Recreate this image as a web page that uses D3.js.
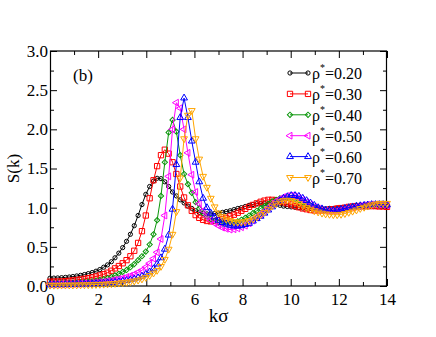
<!DOCTYPE html>
<html>
<head>
<meta charset="utf-8">
<script src="https://cdn.jsdelivr.net/npm/d3@7"></script>
<style>
  body { margin: 0; background: #fff; }
</style>
</head>
<body>
<div id="chart"></div>
<script>
// ---------- data ----------
const kValues = [
  0.00, 0.16, 0.32, 0.48, 0.64, 0.80, 0.95, 1.11, 1.27, 1.43,
  1.59, 1.75, 1.91, 2.07, 2.23, 2.39, 2.55, 2.70, 2.86, 3.02,
  3.18, 3.34, 3.50, 3.66, 3.82, 3.98, 4.14, 4.30, 4.45, 4.61,
  4.77, 4.93, 5.09, 5.25, 5.41, 5.57, 5.73, 5.89, 6.05, 6.20,
  6.36, 6.52, 6.68, 6.84, 7.00, 7.16, 7.32, 7.48, 7.64, 7.80,
  7.95, 8.11, 8.27, 8.43, 8.59, 8.75, 8.91, 9.07, 9.23, 9.39,
  9.55, 9.70, 9.86, 10.02, 10.18, 10.34, 10.50, 10.66, 10.82, 10.98,
  11.14, 11.30, 11.45, 11.61, 11.77, 11.93, 12.09, 12.25, 12.41, 12.57,
  12.73, 12.89, 13.05, 13.20, 13.36, 13.52, 13.68, 13.84, 14.00
];

const s020 = [
  0.100, 0.101, 0.103, 0.106, 0.110, 0.115, 0.121, 0.128, 0.136, 0.146,
  0.158, 0.172, 0.189, 0.21, 0.24, 0.27, 0.31, 0.36, 0.42, 0.49,
  0.57, 0.66, 0.77, 0.90, 1.04, 1.17, 1.27, 1.34, 1.375, 1.37,
  1.33, 1.27, 1.20, 1.15, 1.10, 1.06, 1.02, 0.99, 0.96, 0.94,
  0.925, 0.92, 0.92, 0.925, 0.93, 0.94, 0.95, 0.96, 0.975, 0.99,
  1.00, 1.015, 1.03, 1.04, 1.05, 1.055, 1.055, 1.05, 1.045, 1.04,
  1.03, 1.02, 1.015, 1.01, 1.005, 1.00, 0.995, 0.99, 0.99, 0.985,
  0.985, 0.985, 0.985, 0.99, 0.99, 0.995, 0.995, 1.00, 1.00, 1.005,
  1.005, 1.01, 1.01, 1.01, 1.015, 1.015, 1.02, 1.02, 1.02
];

const s030 = [
  0.055, 0.056, 0.057, 0.059, 0.062, 0.066, 0.071, 0.077, 0.084, 0.092,
  0.100, 0.110, 0.122, 0.135, 0.150, 0.170, 0.195, 0.225, 0.255, 0.29,
  0.33, 0.38, 0.45, 0.55, 0.70, 0.90, 1.12, 1.35, 1.53, 1.67,
  1.74, 1.69, 1.58, 1.43, 1.27, 1.13, 1.03, 0.96, 0.905, 0.87,
  0.845, 0.83, 0.825, 0.83, 0.84, 0.855, 0.87, 0.89, 0.91, 0.935,
  0.96, 0.985, 1.01, 1.035, 1.055, 1.075, 1.09, 1.10, 1.10, 1.095,
  1.085, 1.07, 1.055, 1.04, 1.02, 1.005, 0.99, 0.98, 0.97, 0.965,
  0.965, 0.965, 0.97, 0.975, 0.98, 0.99, 0.995, 1.00, 1.01, 1.015,
  1.02, 1.02, 1.02, 1.02, 1.02, 1.02, 1.015, 1.015, 1.01
];

const s040 = [
  0.030, 0.030, 0.031, 0.032, 0.034, 0.036, 0.039, 0.042, 0.046, 0.050,
  0.055, 0.060, 0.067, 0.077, 0.088, 0.100, 0.115, 0.135, 0.155, 0.18,
  0.205, 0.24, 0.28, 0.33, 0.38, 0.44, 0.53, 0.66, 0.84, 1.15,
  1.58, 1.96, 2.12, 1.97, 1.67, 1.43, 1.30, 1.19, 1.07, 0.99,
  0.93, 0.89, 0.855, 0.83, 0.81, 0.80, 0.795, 0.80, 0.81, 0.825,
  0.845, 0.87, 0.90, 0.93, 0.96, 0.99, 1.02, 1.05, 1.08, 1.10,
  1.12, 1.13, 1.13, 1.125, 1.11, 1.095, 1.07, 1.05, 1.03, 1.01,
  0.995, 0.98, 0.975, 0.97, 0.97, 0.975, 0.98, 0.99, 1.00, 1.01,
  1.02, 1.025, 1.03, 1.035, 1.035, 1.035, 1.035, 1.03, 1.03
];

const s050 = [
  0.020, 0.020, 0.021, 0.022, 0.023, 0.024, 0.026, 0.028, 0.030, 0.033,
  0.036, 0.040, 0.044, 0.049, 0.055, 0.062, 0.070, 0.080, 0.090, 0.100,
  0.115, 0.13, 0.15, 0.175, 0.20, 0.24, 0.29, 0.35, 0.43, 0.60,
  0.90, 1.40, 2.00, 2.34, 2.27, 2.00, 1.70, 1.42, 1.20, 1.05,
  0.96, 0.89, 0.84, 0.80, 0.77, 0.745, 0.73, 0.72, 0.725, 0.735,
  0.75, 0.77, 0.80, 0.835, 0.875, 0.915, 0.955, 1.00, 1.04, 1.08,
  1.11, 1.135, 1.15, 1.155, 1.145, 1.125, 1.10, 1.07, 1.04, 1.01,
  0.99, 0.97, 0.96, 0.955, 0.955, 0.96, 0.97, 0.98, 0.99, 1.00,
  1.01, 1.02, 1.03, 1.035, 1.04, 1.04, 1.04, 1.035, 1.03
];

const s060 = [
  0.015, 0.015, 0.016, 0.016, 0.017, 0.018, 0.019, 0.020, 0.021, 0.023,
  0.025, 0.027, 0.030, 0.033, 0.036, 0.040, 0.044, 0.049, 0.055, 0.062,
  0.070, 0.080, 0.090, 0.105, 0.125, 0.15, 0.18, 0.22, 0.28, 0.36,
  0.47, 0.65, 0.98, 1.55, 2.15, 2.40, 2.15, 1.85, 1.58, 1.33,
  1.12, 1.00, 0.93, 0.88, 0.84, 0.81, 0.79, 0.775, 0.765, 0.765,
  0.77, 0.785, 0.80, 0.83, 0.86, 0.89, 0.93, 0.97, 1.01, 1.05,
  1.09, 1.12, 1.14, 1.155, 1.155, 1.145, 1.12, 1.09, 1.06, 1.03,
  1.00, 0.985, 0.97, 0.965, 0.965, 0.97, 0.98, 0.99, 1.00, 1.01,
  1.02, 1.025, 1.03, 1.035, 1.04, 1.04, 1.04, 1.04, 1.035
];

const s070 = [
  0.010, 0.010, 0.010, 0.011, 0.011, 0.012, 0.012, 0.013, 0.014, 0.015,
  0.016, 0.017, 0.019, 0.021, 0.023, 0.026, 0.029, 0.033, 0.037, 0.042,
  0.048, 0.055, 0.064, 0.075, 0.09, 0.11, 0.135, 0.165, 0.20, 0.25,
  0.34, 0.47, 0.66, 0.95, 1.38, 1.88, 2.18, 2.24, 1.88, 1.62,
  1.40, 1.26, 1.12, 1.01, 0.93, 0.885, 0.855, 0.835, 0.82, 0.815,
  0.815, 0.82, 0.835, 0.855, 0.88, 0.91, 0.94, 0.98, 1.02, 1.05,
  1.075, 1.09, 1.095, 1.09, 1.075, 1.05, 1.025, 1.00, 0.98, 0.96,
  0.945, 0.93, 0.92, 0.915, 0.91, 0.91, 0.915, 0.925, 0.94, 0.955,
  0.97, 0.99, 1.005, 1.02, 1.035, 1.045, 1.055, 1.055, 1.055
];

const densityLabels = ["0.20", "0.30", "0.40", "0.50", "0.60", "0.70"];
const xTicks = [0, 2, 4, 6, 8, 10, 12, 14];
const yTicks = [0, 0.5, 1, 1.5, 2, 2.5, 3];

// ---------- styling for each series ----------
const seriesValues = [s020, s030, s040, s050, s060, s070];
const colors = ["#000000", "#ff0000", "#0a960a", "#ff00ff", "#0000ff", "#ffa500"];
const shapes = [
  { type: d3.symbolCircle, size: 14, rot: 0 },
  { type: d3.symbolSquare, size: 28, rot: 0 },
  { type: d3.symbolSquare, size: 14, rot: 45 },
  { type: d3.symbolTriangle, size: 20, rot: -90 },
  { type: d3.symbolTriangle, size: 20, rot: 0 },
  { type: d3.symbolTriangle, size: 20, rot: 180 }
];

const series = densityLabels.map((label, i) => ({
  label,
  color: colors[i],
  shape: shapes[i],
  points: kValues.map((k, j) => ({ k, s: seriesValues[i][j] }))
}));

// ---------- layout ----------
const W = 436, H = 337;
const mLeft = 50, mRight = 387, mTop = 51, mBottom = 286;
const SERIF = "font-family: 'Liberation Serif', 'DejaVu Serif', 'Times New Roman', serif;";

const svg = d3.select("#chart").append("svg")
  .attr("width", W)
  .attr("height", H);

svg.append("rect").attr("width", W).attr("height", H).attr("fill", "#fff");

const x = d3.scaleLinear().domain([0, 14]).range([mLeft, mRight]);
const y = d3.scaleLinear().domain([0, 3]).range([mBottom, mTop]);

// ---------- axes (inward ticks on all four sides) ----------
function styleAxis(g) {
  g.attr("font-family", null).attr("font-size", null);
  g.select(".domain").remove();
  g.selectAll(".tick line").attr("stroke", "#000");
  g.selectAll(".tick text")
    .attr("style", SERIF + " font-size: 17px;")
    .attr("fill", "#000");
}

const minorX = [1, 3, 5, 7, 9, 11, 13];
const minorY = [0.25, 0.75, 1.25, 1.75, 2.25, 2.75];

svg.append("g")
  .attr("transform", `translate(0,${mBottom})`)
  .call(d3.axisBottom(x).tickValues(xTicks).tickFormat(d3.format("d")).tickSize(-7).tickPadding(7))
  .call(styleAxis);
svg.append("g")
  .attr("transform", `translate(0,${mBottom})`)
  .call(d3.axisBottom(x).tickValues(minorX).tickFormat("").tickSize(-4))
  .call(styleAxis);
svg.append("g")
  .attr("transform", `translate(0,${mTop})`)
  .call(d3.axisTop(x).tickValues(xTicks).tickFormat("").tickSize(-7))
  .call(styleAxis);
svg.append("g")
  .attr("transform", `translate(0,${mTop})`)
  .call(d3.axisTop(x).tickValues(minorX).tickFormat("").tickSize(-4))
  .call(styleAxis);

svg.append("g")
  .attr("transform", `translate(${mLeft},0)`)
  .call(d3.axisLeft(y).tickValues(yTicks).tickFormat(d3.format(".1f")).tickSize(-7).tickPadding(2))
  .call(styleAxis);
svg.append("g")
  .attr("transform", `translate(${mLeft},0)`)
  .call(d3.axisLeft(y).tickValues(minorY).tickFormat("").tickSize(-4))
  .call(styleAxis);
svg.append("g")
  .attr("transform", `translate(${mRight},0)`)
  .call(d3.axisRight(y).tickValues(yTicks).tickFormat("").tickSize(-7))
  .call(styleAxis);
svg.append("g")
  .attr("transform", `translate(${mRight},0)`)
  .call(d3.axisRight(y).tickValues(minorY).tickFormat("").tickSize(-4))
  .call(styleAxis);

// frame
svg.append("rect")
  .attr("x", mLeft + 0.5).attr("y", mTop)
  .attr("width", mRight - mLeft - 1).attr("height", mBottom - mTop)
  .attr("fill", "none").attr("stroke", "#000").attr("stroke-width", 1.2);

// axis titles
svg.append("text")
  .attr("x", (mLeft + mRight) / 2).attr("y", 322)
  .attr("text-anchor", "middle")
  .attr("style", SERIF + " font-size: 19px;")
  .text("kσ");

svg.append("text")
  .attr("transform", `translate(19,${(mTop + mBottom) / 2}) rotate(-90)`)
  .attr("text-anchor", "middle")
  .attr("style", SERIF + " font-size: 17px;")
  .text("S(k)");

svg.append("text")
  .attr("x", 73).attr("y", 81)
  .attr("style", SERIF + " font-size: 17px;")
  .text("(b)");

// ---------- curves ----------
const line = d3.line().x(d => x(d.k)).y(d => y(d.s));

function symbolPath(shape) {
  return d3.symbol().type(shape.type).size(shape.size)();
}

const plot = svg.append("g");

series.forEach(s => {
  const g = plot.append("g");
  g.append("path")
    .datum(s.points)
    .attr("d", line)
    .attr("fill", "none")
    .attr("stroke", s.color)
    .attr("stroke-width", 1);

  g.selectAll("path.mk")
    .data(s.points)
    .join("path")
    .attr("class", "mk")
    .attr("d", symbolPath(s.shape))
    .attr("transform", d => `translate(${x(d.k)},${y(d.s)}) rotate(${s.shape.rot})`)
    .attr("fill", "none")
    .attr("stroke", s.color)
    .attr("stroke-width", 1);
});

// ---------- legend ----------
const legend = svg.append("g");
const legX0 = 290, legX1 = 308, legY0 = 73, legStep = 20.9;

series.forEach((s, i) => {
  const yy = legY0 + i * legStep;
  const row = legend.append("g");
  row.append("line")
    .attr("x1", legX0).attr("x2", legX1)
    .attr("y1", yy).attr("y2", yy)
    .attr("stroke", s.color).attr("stroke-width", 1);
  [legX0, legX1].forEach(px => {
    row.append("path")
      .attr("d", symbolPath(s.shape))
      .attr("transform", `translate(${px},${yy}) rotate(${s.shape.rot})`)
      .attr("fill", "none")
      .attr("stroke", s.color);
  });
  const t = row.append("text")
    .attr("x", 312).attr("y", yy + 6)
    .attr("style", SERIF + " font-size: 16px;");
  t.append("tspan").text("ρ");
  t.append("tspan").attr("dy", -8).attr("style", "font-size: 10px;").text("*");
  t.append("tspan").attr("dy", 8).text("=" + s.label);
});
</script>
</body>
</html>
